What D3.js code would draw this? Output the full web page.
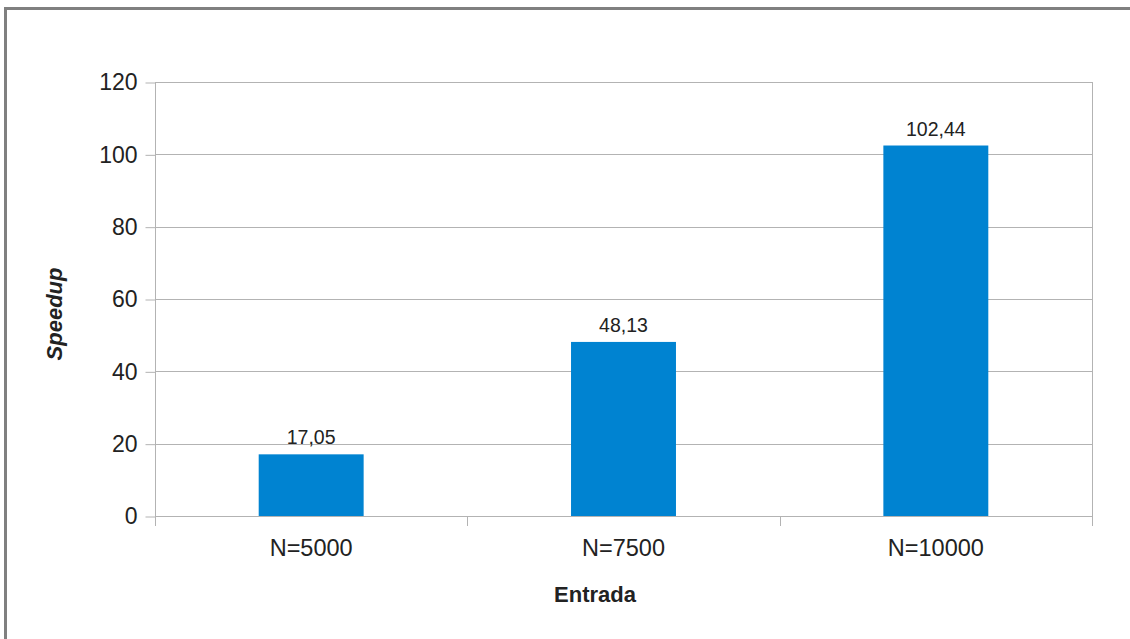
<!DOCTYPE html>
<html><head><meta charset="utf-8">
<script src="https://cdn.jsdelivr.net/npm/d3@7"></script>
<style>html,body{margin:0;padding:0;background:#fff;}svg{display:block;}</style>
</head><body>
<svg id="chart" width="1130" height="639"></svg>
<script>
const categories = ["N=5000", "N=7500", "N=10000"];
const speedup = [17.05, 48.13, 102.44];
const valueLabels = ["17,05", "48,13", "102,44"];
const yTicks = [0, 20, 40, 60, 80, 100, 120];
const xTitle = "Entrada";
const yTitle = "Speedup";

const svg = d3.select("#chart");
const W = 1130, H = 639;
const m = {left: 155, right: 1092, top: 82, bottom: 516};
const font = "'Liberation Sans', Arial, sans-serif";
const gridColor = "#b3b3b3";
const textColor = "#222";

// outer frame
svg.append("rect").attr("x", 5.5).attr("y", 8.5).attr("width", W + 20).attr("height", H + 20)
  .attr("fill", "none").attr("stroke", "#808080").attr("stroke-width", 3);

const x = d3.scaleBand().domain(categories).range([m.left, m.right]).paddingInner(0).paddingOuter(0);
const y = d3.scaleLinear().domain([0, 120]).range([m.bottom, m.top]);

// gridlines
svg.append("g").selectAll("line").data(yTicks).join("line")
  .attr("x1", m.left).attr("x2", m.right)
  .attr("y1", d => Math.round(y(d)) + 0.5).attr("y2", d => Math.round(y(d)) + 0.5)
  .attr("stroke", gridColor).attr("stroke-width", 1);

// right border of plot
svg.append("line").attr("x1", m.right + 0.5).attr("x2", m.right + 0.5)
  .attr("y1", m.top).attr("y2", m.bottom + 10).attr("stroke", gridColor);

// y axis
const yAxis = d3.axisLeft(y).tickValues(yTicks).tickSize(10).tickPadding(8).tickFormat(d3.format("d"));
const gy = svg.append("g").attr("transform", `translate(${m.left + 0.5},0.5)`).call(yAxis);
gy.select(".domain").remove();
gy.selectAll(".tick line").attr("stroke", gridColor);
gy.selectAll(".tick text").attr("font-family", font).attr("font-size", 23).attr("fill", textColor);
svg.append("line").attr("x1", m.left + 0.5).attr("x2", m.left + 0.5)
  .attr("y1", m.top).attr("y2", m.bottom + 10).attr("stroke", gridColor);

// x category divider ticks
const dividers = categories.map(c => x(c) + x.bandwidth()).slice(0, -1);
svg.append("g").selectAll("line").data(dividers).join("line")
  .attr("x1", d => Math.round(d) + 0.5).attr("x2", d => Math.round(d) + 0.5)
  .attr("y1", m.bottom).attr("y2", m.bottom + 10).attr("stroke", gridColor);

// bars
const barW = x.bandwidth() * 0.336;
svg.append("g").selectAll("rect").data(speedup).join("rect")
  .attr("x", (d, i) => x(categories[i]) + (x.bandwidth() - barW) / 2)
  .attr("width", barW)
  .attr("y", d => y(d))
  .attr("height", d => y(0) - y(d))
  .attr("fill", "#0083d1");

// value labels
svg.append("g").selectAll("text").data(speedup).join("text")
  .attr("x", (d, i) => x(categories[i]) + x.bandwidth() / 2)
  .attr("y", d => y(d) - 10)
  .attr("text-anchor", "middle")
  .attr("font-family", font).attr("font-size", 19.5).attr("fill", textColor)
  .text((d, i) => valueLabels[i]);

// category labels
svg.append("g").selectAll("text").data(categories).join("text")
  .attr("x", d => x(d) + x.bandwidth() / 2)
  .attr("y", 556)
  .attr("text-anchor", "middle")
  .attr("font-family", font).attr("font-size", 23.5).attr("fill", textColor)
  .text(d => d);

// axis titles
svg.append("text").attr("x", 595).attr("y", 602)
  .attr("text-anchor", "middle").attr("font-family", font).attr("font-size", 22)
  .attr("font-weight", "bold").attr("fill", textColor).text(xTitle);

svg.append("text").attr("transform", "translate(62,314) rotate(-90)")
  .attr("text-anchor", "middle").attr("font-family", font).attr("font-size", 22)
  .attr("font-weight", "bold").attr("font-style", "italic").attr("fill", textColor).text(yTitle);
</script>
</body></html>
